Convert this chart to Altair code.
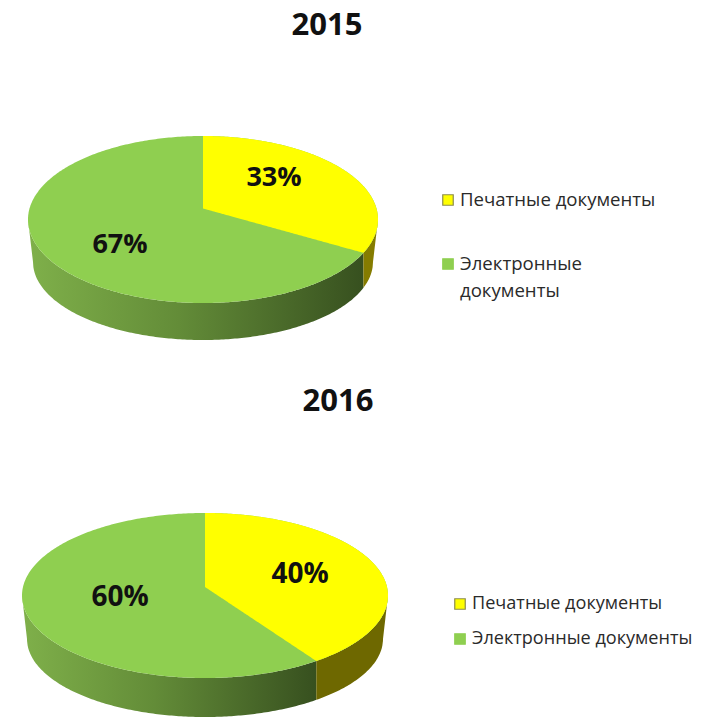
import math
import altair as alt
import pandas as pd

# ---- chart values ----
years = ["2015", "2016"]
print_share = [33, 40]
digital_share = [67, 60]
legend_print = "Печатные документы"
legend_digital_lines = [["Электронные", "документы"], ["Электронные документы"]]

# ---- layout (reference pixel coordinates, used as scale domain units) ----
W, H = 709, 717
PIES = [
    dict(cx=203, top=136, bot=303, apex=208.5, rx=175, rxb=170, cyb=262, ryb=78, seam=1.5),
    dict(cx=205, top=513, bot=678, apex=587, rx=183, rxb=178, cyb=639, ryb=78, seam=2.0),
]
TITLE_POS = [(327, 26), (338, 402)]
LABELS = [[(274, 178), (120, 245)], [(300, 575), (120, 598)]]
LABEL_SIZE = [27, 28]
LEGEND_SIZE = [18.6, 18.1]
LEG_X = [(448, 460), (460, 472)]
LEG_Y = [(200, [264, 291]), (604, [639])]
WALL_OLIVE = ["#857c00", "#6e6800"]
GREEN, YELLOW = "#8fcf50", "#ffff00"
FONT = "Open Sans"
TEXT = "#2a2a2a"

xs = alt.X("x:Q", axis=None, scale=alt.Scale(domain=[8, W - 8], nice=False, zero=False))
ys = alt.Y("y:Q", axis=None, scale=alt.Scale(domain=[H, 8], nice=False, zero=False))


def ellipse_half(dx, rx, ry):
    return ry * math.sqrt(max(0.0, 1 - (dx / rx) ** 2))


def sample(a, b, extra=(), n=240):
    pts = {a + (b - a) * (1 - math.cos(math.pi * i / n)) / 2 for i in range(n + 1)}
    pts.update(e for e in extra if a <= e <= b)
    return sorted(pts)


def pie_layers(p, share, olive):
    cx, rx, rxb = p["cx"], p["rx"], p["rxb"]
    ey = (p["top"] + p["bot"]) / 2
    ry = (p["bot"] - p["top"]) / 2
    # perspective projection of the circle that puts its centre on the apex
    up, down = p["apex"] - p["top"], p["bot"] - p["apex"]
    k = (down - up) / (down + up)
    B = up * (1 + k)
    A = rx * math.sqrt(1 - k * k)
    th = 2 * math.pi * share / 100 + math.radians(p["seam"])
    u, v = math.sin(th), -math.cos(th)
    d = 1 - k * v
    xe, ye = cx + A * u / d, p["apex"] + B * v / d

    def lower(x):
        return ey + ellipse_half(x - cx, rx, ry)

    def upper(x):
        return ey - ellipse_half(x - cx, rx, ry)

    def wall_bottom(x):
        dx = x - cx
        if abs(dx) <= rxb:
            return p["cyb"] + ellipse_half(dx, rxb, p["ryb"])
        return ey + (p["cyb"] - ey) * (rx - abs(dx)) / (rx - rxb)

    edges = (cx - rxb, cx + rxb, xe)
    wall = pd.DataFrame(
        [dict(x=x, y=lower(x), y2=wall_bottom(x)) for x in sample(cx - rx, cx + rx, edges)]
    )
    top_all = pd.DataFrame(
        [dict(x=x, y=upper(x), y2=lower(x)) for x in sample(cx - rx, cx + rx, (xe,))]
    )
    rows = []
    for x in sample(cx, cx + rx, (xe,)):
        bottom = p["apex"] + (ye - p["apex"]) * (x - cx) / (xe - cx) if x <= xe else lower(x)
        rows.append(dict(x=x, y=upper(x), y2=bottom))
    wedge = pd.DataFrame(rows)

    green_grad = alt.Gradient(
        gradient="linear", x1=0, x2=1, y1=0, y2=0,
        stops=[
            alt.GradientStop(offset=0, color="#7fb04a"),
            alt.GradientStop(offset=0.45, color="#638c38"),
            alt.GradientStop(offset=1, color="#37501f"),
        ],
    )

    def area(df, color):
        return alt.Chart(df).mark_area(color=color, clip=True).encode(x=xs, y=ys, y2="y2:Q")

    return [
        area(wall[wall.x <= xe], green_grad),
        area(wall[wall.x >= xe], olive),
        area(top_all, GREEN),
        area(wedge, YELLOW),
    ]


layers = []
texts, squares = [], []
for i, year in enumerate(years):
    layers += pie_layers(PIES[i], print_share[i], WALL_OLIVE[i])
    texts.append(dict(x=TITLE_POS[i][0], y=TITLE_POS[i][1], t=year, s=31, w="bold", c="#111111", a="center"))
    for (lx, ly), val in zip(LABELS[i], (print_share[i], digital_share[i])):
        texts.append(dict(x=lx, y=ly, t=f"{val}%", s=LABEL_SIZE[i], w="bold", c="#111111", a="center"))
    sx, tx = LEG_X[i]
    y1, y2s = LEG_Y[i]
    texts.append(dict(x=tx, y=y1, t=legend_print, s=LEGEND_SIZE[i], w="normal", c=TEXT, a="left"))
    for line, ly in zip(legend_digital_lines[i], y2s):
        texts.append(dict(x=tx, y=ly, t=line, s=LEGEND_SIZE[i], w="normal", c=TEXT, a="left"))
    squares.append(dict(x=sx, y=y1, c=YELLOW, st="#8c8c50"))
    squares.append(dict(x=sx, y=y2s[0], c=GREEN, st=GREEN))

for t in texts:
    layers.append(
        alt.Chart(pd.DataFrame([t]))
        .mark_text(
            font=FONT, fontSize=t["s"], fontWeight=t["w"], color=t["c"],
            align=t["a"], baseline="middle",
        )
        .encode(x=xs, y=ys, text="t:N")
    )
for s in squares:
    layers.append(
        alt.Chart(pd.DataFrame([s]))
        .mark_square(size=110, filled=True, color=s["c"], stroke=s["st"], strokeWidth=1.2, opacity=1)
        .encode(x=xs, y=ys)
    )

chart = (
    alt.layer(*layers)
    .properties(width=W - 16, height=H - 8, padding=0, background="white",
                autosize=alt.AutoSizeParams(type="none"))
    .configure_view(stroke=None)
)
chart.save("out.html", embed_options={"renderer": "svg", "actions": False})
